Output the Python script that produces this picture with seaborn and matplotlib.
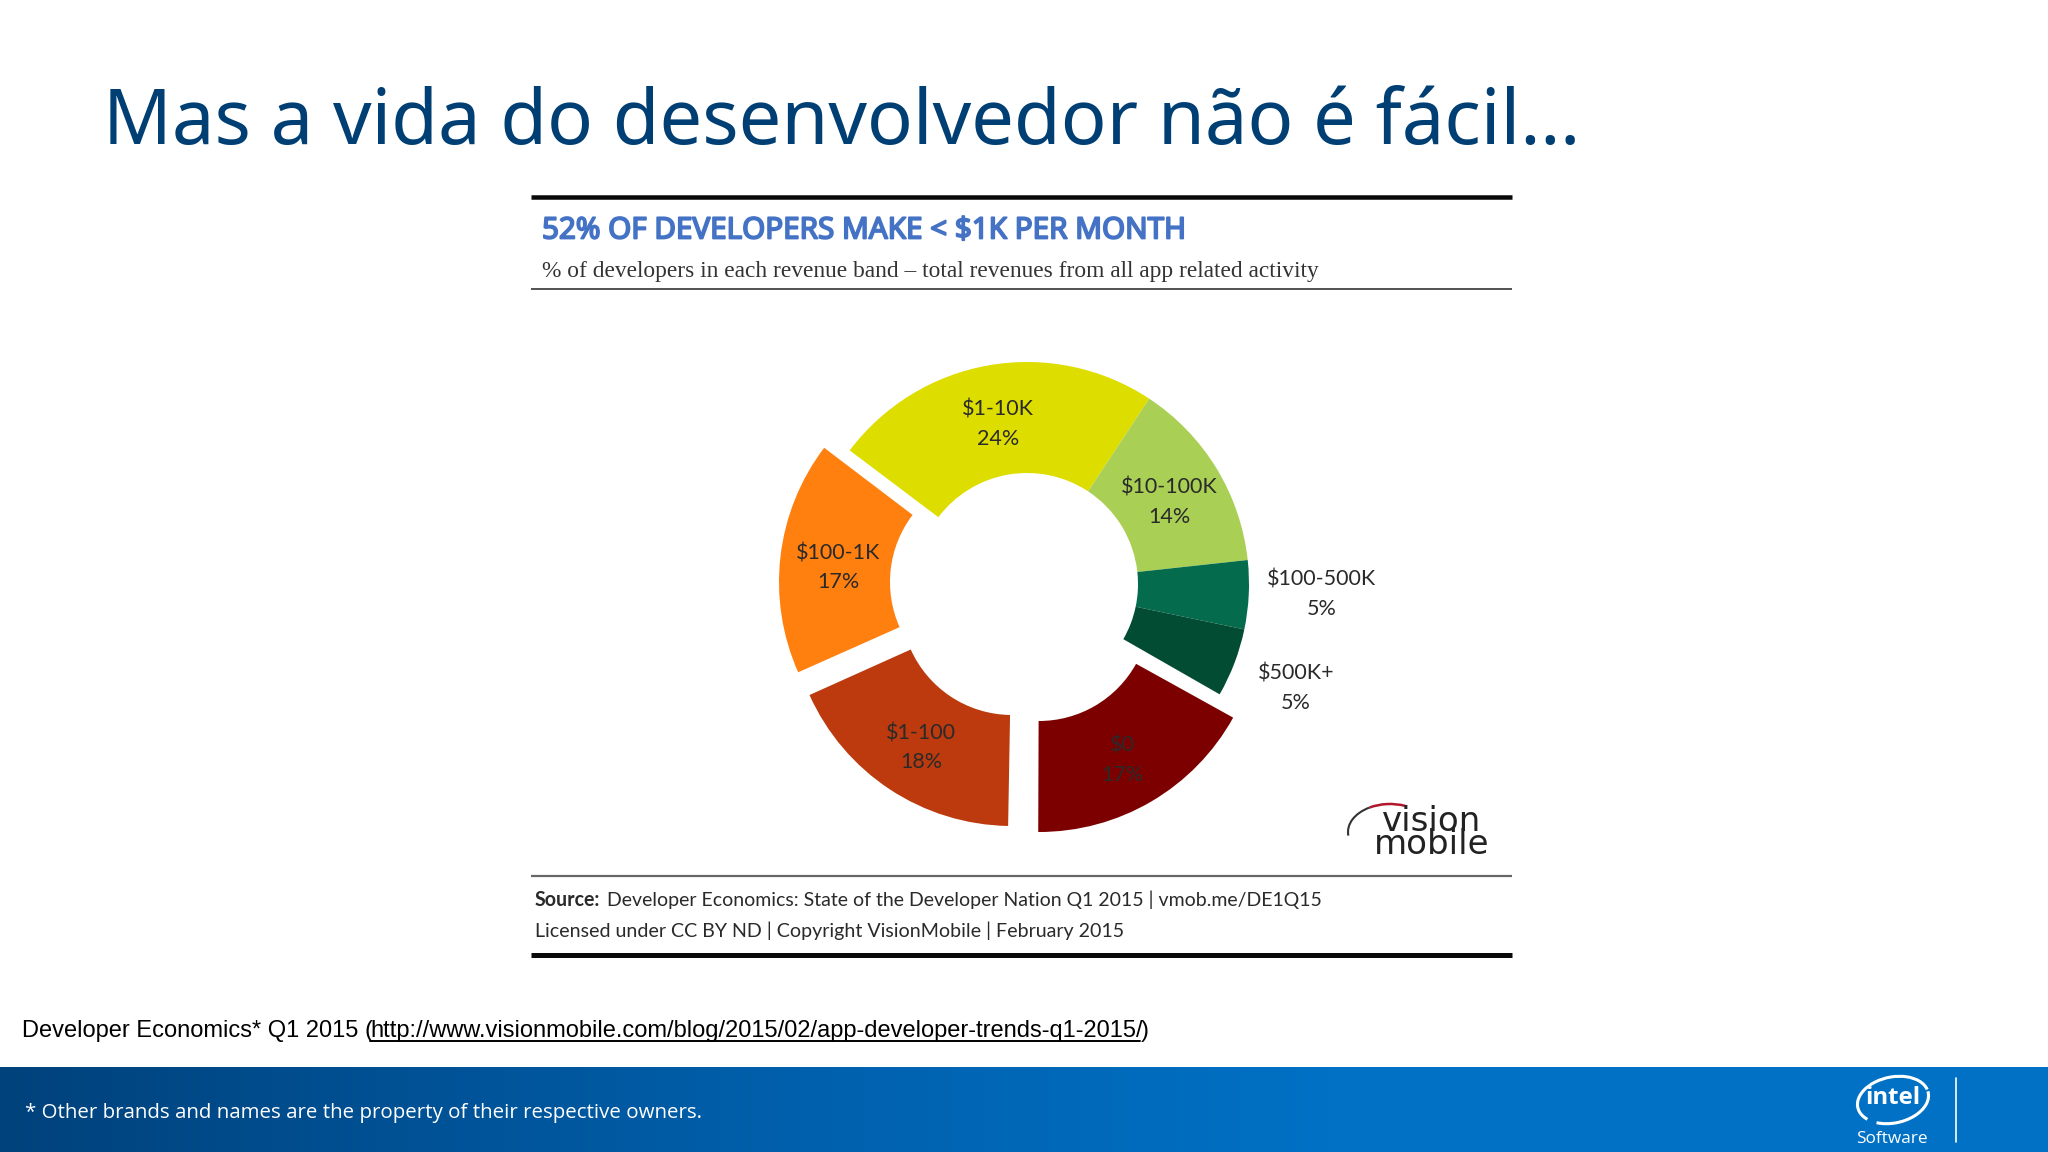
import matplotlib
matplotlib.use('Agg')
import matplotlib.pyplot as plt
import matplotlib.patheffects as pe
from matplotlib.colors import LinearSegmentedColormap
from matplotlib.patches import Arc
import numpy as np
import seaborn as sns

# Chart data
slide_title = 'Mas a vida do desenvolvedor não é fácil…'
chart_title = '52% OF DEVELOPERS MAKE < $1K PER MONTH'
chart_sub = '% of developers in each revenue band – total revenues from all app related activity'
bands = ['$1-10K', '$10-100K', '$100-500K', '$500K+', '$0', '$1-100', '$100-1K']
shares = [24, 14, 5, 5, 17, 18, 17]
band_colors = ['#DDDD00', '#A9CF55', '#046B4C', '#034C34', '#7C0000', '#BC3A0E', '#FF7F0F']
source_lines = ['Developer Economics: State of the Developer Nation Q1 2015 | vmob.me/DE1Q15',
                'Licensed under CC BY ND | Copyright VisionMobile | February 2015']
caption = 'Developer Economics* Q1 2015 ('
caption_url = 'http://www.visionmobile.com/blog/2015/02/app-developer-trends-q1-2015/'
footer = '* Other brands and names are the property of their respective owners.'

sns.set_theme(style='white')
palette = sns.color_palette(band_colors)

W, H = 2048, 1152
fig = plt.figure(figsize=(W / 100, H / 100), dpi=100, facecolor='white')
ax = fig.add_axes([0, 0, 1, 1])


def Y(y):
    # work in screenshot pixels, y going down
    return H - y


def put(x, y, s, px, **kw):
    kw.setdefault('va', 'center')
    kw.setdefault('color', '#2a2a2a')
    return ax.text(x, Y(y), s, fontsize=px * 0.72, **kw)


# Donut: the slices are pulled apart in four groups, each with its own centre
groups = [
    ([0, 1, 2, 3], (1027, 584), 143),
    ([4], (1039, 610), -29),
    ([5], (1012, 604), 269),
    ([6], (1001, 582), 204),
]
for idx, (cx, cy), start in groups:
    ax.pie([shares[i] / 100 for i in idx], colors=[palette[i] for i in idx],
           center=(cx, Y(cy)), radius=222, startangle=start, counterclock=False,
           normalize=False, wedgeprops=dict(width=111, linewidth=0))

# Band labels
label_pos = [(998, 410), (1169, 488), (1322, 580), (1296, 674),
             (1122, 746), (921, 733), (838, 553)]
for band, share, (lx, ly) in zip(bands, shares, label_pos):
    put(lx, ly, band, 21.5, ha='center', family='Lato')
    put(lx, ly + 29, f'{share}%', 21.5, ha='center', family='Lato')

# Slide title
put(103, 124, slide_title, 76, color='#003F74', family='Noto Sans')

# Rules of the embedded chart
for y, lw, col in [(197, 4.5, '#0a0a0a'), (289, 2, '#555555'),
                   (876, 2.2, '#666666'), (955, 5, '#0a0a0a')]:
    ax.plot([531, 1512], [Y(y), Y(y)], color=col, lw=lw * 0.72, solid_capstyle='butt')

# no condensed bold font here, so a stroke thickens the regular one
put(542, 231, chart_title, 29.6, color='#4472C4', family='Noto Sans',
    path_effects=[pe.withStroke(linewidth=1.3, foreground='#4472C4')])
put(542, 271, chart_sub, 23.4, color='#333333', family='Liberation Serif')
put(535, 900, 'Source:', 19.6, weight='bold', family='Lato')
put(607, 900, source_lines[0], 19.5, family='Lato')
put(535, 931, source_lines[1], 19.6, family='Lato')

# Vision Mobile logo
ax.add_patch(Arc((1390, Y(832)), 84, 56, theta1=60, theta2=130, color='#B0172A', lw=1.8))
ax.add_patch(Arc((1390, Y(832)), 84, 56, theta1=130, theta2=185, color='#333333', lw=1.5))
put(1432, 833, 'vision\nmobile', 34, ha='center', linespacing=0.62, family='DejaVu Sans',
    color='#222222')

# Caption with underlined link
put(22, 1031, caption, 23.6, color='black', family='Liberation Sans')
put(370, 1031, caption_url, 23.6, color='black', family='Liberation Sans')
put(1141, 1031, ')', 23.6, color='black', family='Liberation Sans')
ax.plot([370, 1140], [Y(1041), Y(1041)], color='black', lw=1.4)

# Footer band
band_cmap = LinearSegmentedColormap.from_list(
    'band', [(0, '#00427C'), (0.39, '#0060AD'), (0.65, '#0071C5'), (1, '#0071C5')])
ax.imshow(np.linspace(0, 1, 256).reshape(1, -1), extent=[0, W, 0, H - 1067], cmap=band_cmap,
          aspect='auto', zorder=0)
put(25, 1113, footer, 20.5, color='white', family='Open Sans')

# Intel logo
put(1893, 1098, 'intel', 24, ha='center', color='white', weight='bold', family='Open Sans')
ax.add_patch(Arc((1893, Y(1100)), 72, 46, angle=12, theta1=5, theta2=205, color='white', lw=2.2))
ax.add_patch(Arc((1893, Y(1100)), 72, 46, angle=12, theta1=222, theta2=362, color='white', lw=2.2))
put(1892, 1139, 'Software', 17.2, ha='center', color='white', family='Open Sans')
ax.plot([1956, 1956], [Y(1078), Y(1142)], color='white', lw=1.2)

ax.set_xlim(0, W)
ax.set_ylim(0, H)
ax.set_aspect('auto')
ax.axis('off')
fig.savefig('out.png', dpi=100)
